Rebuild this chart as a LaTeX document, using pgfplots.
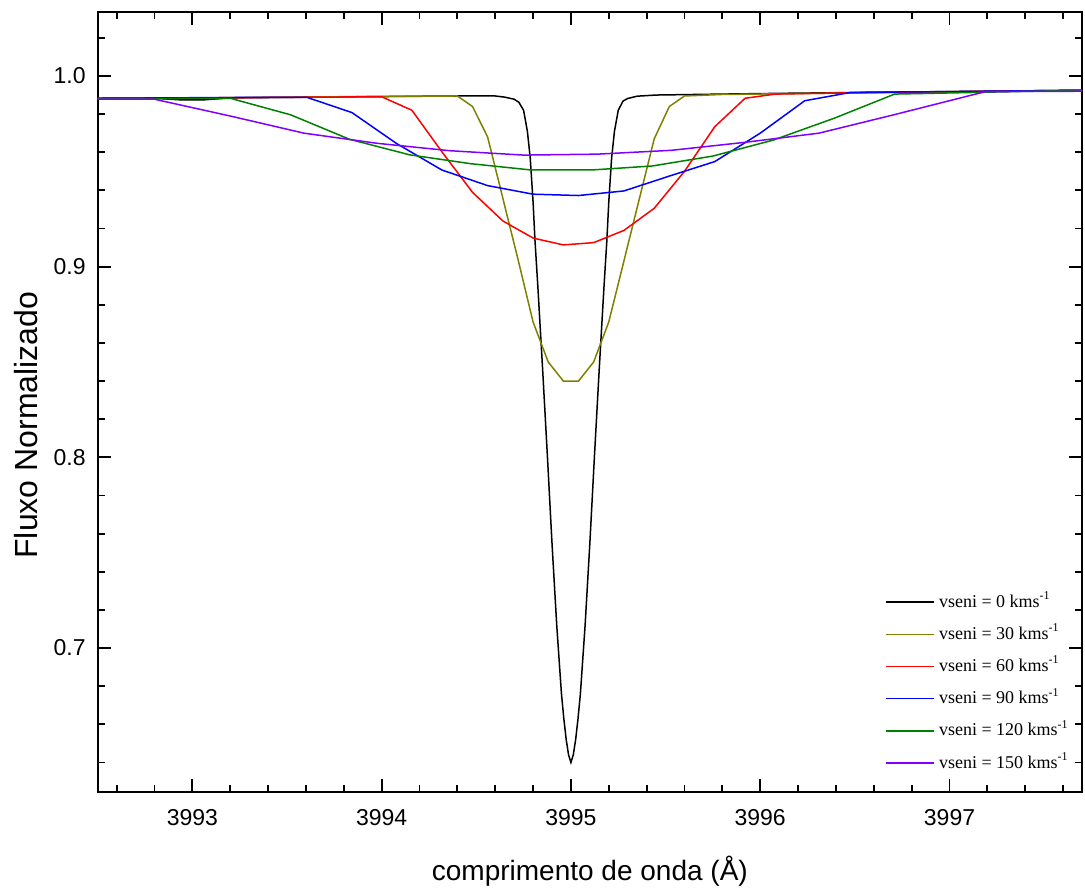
\documentclass[border=0pt]{standalone}
\usepackage{fontspec}
\setmainfont{Liberation Sans}
\newfontfamily\legfont{Liberation Serif}
\usepackage{pgfplots}
\pgfplotsset{compat=1.18}
\definecolor{olivec}{RGB}{128,128,0}
\definecolor{greenc}{RGB}{0,128,0}
\definecolor{violetc}{RGB}{128,0,255}
\begin{document}
\begin{tikzpicture}
\useasboundingbox (-48.85pt,-49.5pt) rectangle (493.65pt,396pt);
\begin{axis}[
 at={(0,0)}, anchor=south west,
 scale only axis, width=492.15pt, height=390.15pt,
 xmin=3992.5, xmax=3997.7, ymin=0.6245, ymax=1.0337,
 xtick={3993,3994,3995,3996,3997},
 minor xtick={3992.6,3992.8,3993.2,3993.4,3993.6,3993.8,3994.2,3994.4,3994.6,3994.8,3995.2,3995.4,3995.6,3995.8,3996.2,3996.4,3996.6,3996.8,3997.2,3997.4,3997.6},
 ytick={0.7,0.8,0.9,1.0},
 minor ytick={0.64,0.66,0.68,0.72,0.74,0.76,0.78,0.82,0.84,0.86,0.88,0.92,0.94,0.96,0.98,1.02},
 tick align=inside, tick pos=both,
 major tick length=6.5pt, minor tick length=3.5pt,
 every tick/.style={black, line width=0.9pt},
 axis line style={line width=1pt},
 /pgf/number format/assume math mode=true,
 ticklabel style={font=\fontsize{11.5}{13}\selectfont},
 xticklabel style={/pgf/number format/1000 sep={}, yshift=-5pt},
 yticklabel style={/pgf/number format/.cd, fixed, fixed zerofill, precision=1, /tikz/.cd, xshift=-2.5pt},
 xlabel={comprimento de onda (Å)},
 ylabel={Fluxo Normalizado},
 xlabel style={font=\fontsize{14}{16}\selectfont, at={(axis description cs:0.5,-0.1128)}, anchor=base},
 ylabel style={font=\fontsize{16}{18}\selectfont, at={(axis description cs:-0.0728,0.47)}, anchor=center},
 legend style={draw=none, fill=none, at={(axis description cs:0.800,0.2554)}, anchor=north west, inner sep=0pt,
   font=\legfont\fontsize{9}{10}\selectfont, row sep=7.1pt,
   nodes={inner sep=0pt, text height=7pt, text depth=2pt},
   /tikz/every odd column/.style={column sep=2pt}},
 legend cell align=left,
 legend image code/.code={\draw[#1] (0pt,0pt) -- (24pt,0pt);},
 every axis plot/.append style={line width=0.75pt},
]
\addplot[black] coordinates {
(3992.5,0.9883) (3992.8,0.9883) (3992.95,0.9874) (3993.05,0.9874) (3993.2,0.9885) (3993.6,0.9889) (3994.0,0.9892) (3994.4,0.9895) (3994.6,0.9895)
(3994.65,0.9889) (3994.70,0.9878) (3994.725,0.9862) (3994.75,0.9820) (3994.77,0.9710) (3994.785,0.9570) (3994.80,0.9340) (3994.81,0.914)
(3994.825,0.890) (3994.85,0.847) (3994.875,0.802) (3994.90,0.755) (3994.925,0.712) (3994.95,0.676) (3994.9625,0.663) (3994.975,0.652) (3994.9875,0.644) (3995.0,0.640)
(3995.0125,0.644) (3995.025,0.652) (3995.0375,0.663) (3995.05,0.676) (3995.075,0.712) (3995.10,0.755) (3995.125,0.802) (3995.15,0.847) (3995.175,0.890) (3995.19,0.914)
(3995.20,0.934) (3995.215,0.957) (3995.23,0.971) (3995.25,0.9820) (3995.275,0.9868) (3995.30,0.9882) (3995.35,0.9894) (3995.45,0.9900)
(3995.8,0.9905) (3996.2,0.9910) (3996.8,0.9916) (3997.2,0.9920) (3997.7,0.9925)};
\addlegendentry{vseni = 0 kms\textsuperscript{-1}}
\addplot[olivec] coordinates {
(3992.5,0.9883) (3993.2,0.9886) (3994.0,0.9893) (3994.40,0.9895) (3994.48,0.984) (3994.56,0.968) (3994.64,0.936) (3994.72,0.904)
(3994.80,0.871) (3994.88,0.850) (3994.96,0.840) (3995.04,0.840) (3995.12,0.850) (3995.20,0.871) (3995.28,0.903) (3995.36,0.935)
(3995.44,0.967) (3995.52,0.984) (3995.60,0.9895) (3995.8,0.9903) (3996.4,0.9910) (3997.7,0.9925)};
\addlegendentry{vseni = 30 kms\textsuperscript{-1}}
\addplot[red] coordinates {
(3992.5,0.9883) (3993.2,0.9886) (3993.84,0.9890) (3994.00,0.9891) (3994.16,0.982) (3994.32,0.960) (3994.48,0.939) (3994.64,0.924)
(3994.80,0.915) (3994.96,0.9114) (3995.12,0.9126) (3995.28,0.919) (3995.44,0.9306) (3995.60,0.950) (3995.76,0.9734) (3995.92,0.9883)
(3996.08,0.9905) (3996.5,0.9912) (3997.7,0.9925)};
\addlegendentry{vseni = 60 kms\textsuperscript{-1}}
\addplot[blue] coordinates {
(3992.5,0.9883) (3993.2,0.9887) (3993.605,0.9888) (3993.843,0.9808) (3994.08,0.9645) (3994.318,0.9507) (3994.56,0.9425) (3994.80,0.938)
(3995.04,0.9373) (3995.28,0.9397) (3995.52,0.9475) (3995.76,0.9551) (3996.0,0.970) (3996.235,0.987) (3996.48,0.9914) (3997.0,0.9918) (3997.7,0.9925)};
\addlegendentry{vseni = 90 kms\textsuperscript{-1}}
\addplot[greenc] coordinates {
(3992.5,0.9880) (3993.2,0.9883) (3993.52,0.9796) (3993.83,0.9668) (3994.15,0.9586) (3994.47,0.954) (3994.79,0.9507) (3995.11,0.9507)
(3995.43,0.9528) (3995.75,0.958) (3996.07,0.9664) (3996.39,0.9778) (3996.71,0.9905) (3997.2,0.9915) (3997.7,0.9925)};
\addlegendentry{vseni = 120 kms\textsuperscript{-1}}
\addplot[violetc] coordinates {
(3992.5,0.9878) (3992.80,0.9878) (3993.2,0.979) (3993.59,0.970) (3993.975,0.9647) (3994.36,0.9608) (3994.75,0.9585) (3995.14,0.959)
(3995.53,0.961) (3995.92,0.9652) (3996.31,0.970) (3996.70,0.9795) (3997.19,0.9918) (3997.7,0.9920)};
\addlegendentry{vseni = 150 kms\textsuperscript{-1}}
\end{axis}
\end{tikzpicture}
\end{document}
